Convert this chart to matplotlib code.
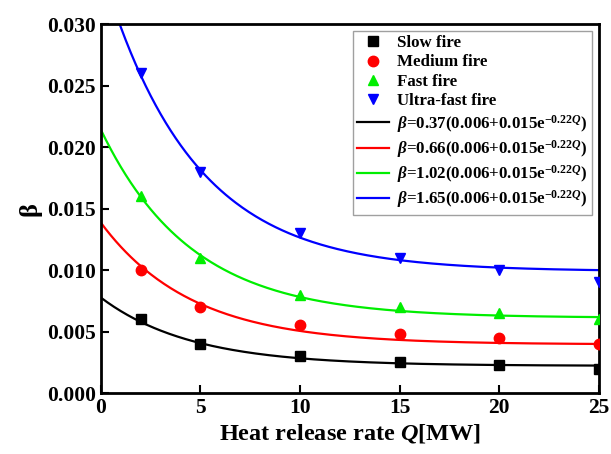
import numpy as np
import matplotlib
matplotlib.use('Agg')
import matplotlib.pyplot as plt

plt.rcParams['font.family'] = ['Liberation Serif', 'DejaVu Serif']
plt.rcParams['font.weight'] = 'bold'
plt.rcParams['mathtext.fontset'] = 'custom'
plt.rcParams['mathtext.rm'] = 'Liberation Serif:bold'
plt.rcParams['mathtext.bf'] = 'Liberation Serif:bold'
plt.rcParams['mathtext.it'] = 'Liberation Serif:bold:italic'

# measured points
Q = [2, 5, 10, 15, 20, 25]
slow = [0.0060, 0.0040, 0.0030, 0.0025, 0.00225, 0.0020]
medium = [0.0100, 0.0070, 0.0055, 0.0048, 0.0045, 0.0040]
fast = [0.0160, 0.0110, 0.0080, 0.0070, 0.0065, 0.0060]
ultra = [0.0260, 0.0180, 0.0130, 0.0110, 0.0100, 0.0090]

# fit coefficients from legend: beta = a(0.006+0.015e^(-0.22Q))
coef = [0.37, 0.66, 1.02, 1.65]
point_labels = ['Slow fire', 'Medium fire', 'Fast fire', 'Ultra-fast fire']
colors = ['black', 'red', '#00ee00', 'blue']
markers = ['s', 'o', '^', 'v']

fig = plt.figure(figsize=(6.11, 4.54), dpi=100)
ax = fig.add_axes([0.165, 0.134, 0.815, 0.813])

for y, lab, c, m in zip([slow, medium, fast, ultra], point_labels, colors, markers):
    ax.plot(Q, y, linestyle='none', marker=m, color=c, markersize=7.5, label=lab, zorder=3)

qq = np.linspace(0, 25, 300)
for a, c in zip(coef, colors):
    ax.plot(qq, a * (0.006 + 0.015 * np.exp(-0.22 * qq)), color=c, linewidth=1.6,
            label=r'$\beta$=%.2f(0.006+0.015e$^{-0.22Q}$)' % a)

ax.set_xlim(0, 25)
ax.set_ylim(0, 0.030)
ax.set_xticks([0, 5, 10, 15, 20, 25])
ax.set_yticks(np.arange(0, 0.0301, 0.005))
ax.set_yticklabels(['%.3f' % v for v in np.arange(0, 0.0301, 0.005)])
ax.tick_params(direction='in', length=6, width=1.5, labelsize=15.5, top=False, right=False)
for lab in ax.get_xticklabels() + ax.get_yticklabels():
    lab.set_fontweight('bold')
for s in ax.spines.values():
    s.set_linewidth(2)

ax.set_xlabel(r'Heat release rate $Q$[MW]', fontsize=17.5, fontweight='bold', labelpad=3)
ax.set_ylabel(r'β', fontsize=19, fontweight='bold', labelpad=4)

leg = ax.legend(loc='upper right', fontsize=12.2, frameon=True, fancybox=False,
                edgecolor='#888888', borderaxespad=0.4, handlelength=1.9,
                labelspacing=0.2, handletextpad=0.5, borderpad=0.25)
leg.get_frame().set_linewidth(1.0)
for t in leg.get_texts():
    t.set_fontweight('bold')

plt.savefig('out.png', dpi=100)
plt.close()
